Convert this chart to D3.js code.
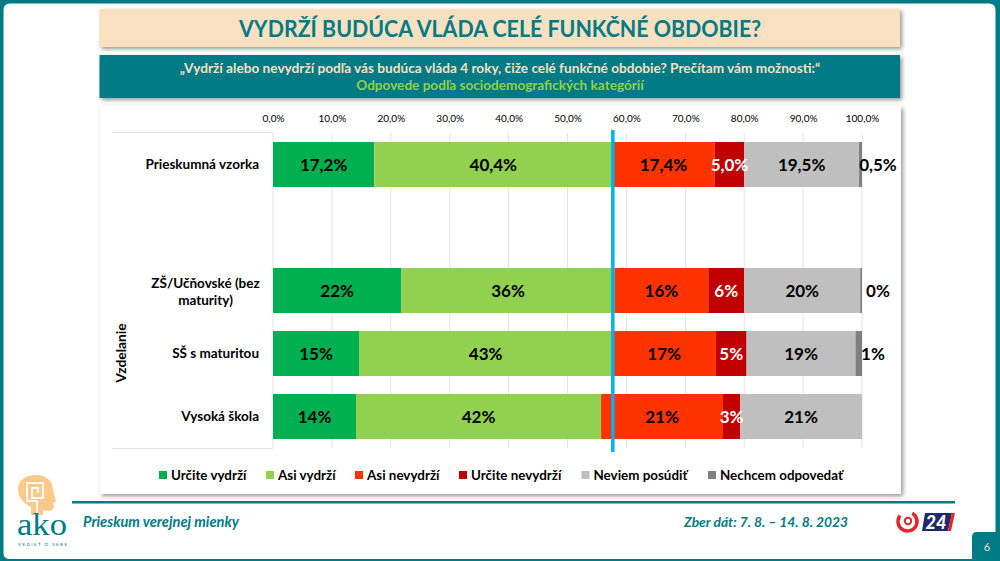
<!DOCTYPE html>
<html>
<head>
<meta charset="utf-8">
<script src="https://cdn.jsdelivr.net/npm/d3@7"></script>
<style>
html, body { margin: 0; padding: 0; background: #fff; }
svg { display: block; font-family: Lato, "Open Sans", sans-serif; font-weight: 700; }
.shadow { filter: drop-shadow(2px 2px 2px rgba(0,0,0,0.42)); }
</style>
</head>
<body>
<div id="graph-area"></div>
<script>
var seriesNames = ["Určite vydrží", "Asi vydrží", "Asi nevydrží", "Určite nevydrží", "Neviem posúdiť", "Nechcem odpovedať"];
var seriesColors = ["#00B050", "#92D050", "#FF3300", "#C00000", "#BFBFBF", "#7F7F7F"];
var labelColors = ["#000", "#000", "#000", "#fff", "#000", "#000"];

var rows = ["Prieskumná vzorka", "", "ZŠ/Učňovské (bez maturity)", "SŠ s maturitou", "Vysoká škola"];
var rowValues = [
    [17.2, 40.4, 17.4, 5.0, 19.5, 0.5],
    null,
    [21.8, 36.2, 15.9, 6.1, 19.7, 0.3],
    [14.6, 43.0, 17.6, 5.2, 18.5, 1.1],
    [14.1, 41.6, 20.7, 2.9, 20.7, 0]
];
var rowLabels = [
    ["17,2%", "40,4%", "17,4%", "5,0%", "19,5%", "0,5%"],
    null,
    ["22%", "36%", "16%", "6%", "20%", "0%"],
    ["15%", "43%", "17%", "5%", "19%", "1%"],
    ["14%", "42%", "21%", "3%", "21%", ""]
];
var xTicks = [0, 10, 20, 30, 40, 50, 60, 70, 80, 90, 100];
var referenceValue = 57.7;

var teal = "#007A84", beige = "#F8E0C0", peach = "#FDC98A";

var svg = d3.select("#graph-area").append("svg")
    .attr("width", 1000)
    .attr("height", 561);

// slide frame
svg.append("path")
    .attr("fill", teal)
    .attr("fill-rule", "evenodd")
    .attr("d", "M0,0H1000V561H0Z M10,3.5H989Q995.5,3.5 995.5,10V559H10Q3.5,559 3.5,553V10Q3.5,3.5 10,3.5Z");

// header boxes
svg.append("rect").attr("class", "shadow").attr("x", 99.5).attr("y", 9).attr("width", 800.5).attr("height", 38).attr("fill", beige);
svg.append("rect").attr("class", "shadow").attr("x", 99.5).attr("y", 55).attr("width", 800.5).attr("height", 43).attr("fill", teal);
svg.append("rect").attr("class", "shadow").attr("x", 100).attr("y", 106).attr("width", 801).attr("height", 388).attr("fill", "#fff");

svg.append("text").attr("x", 500).attr("y", 37).attr("text-anchor", "middle")
    .attr("font-size", 23.5).attr("textLength", 522).attr("lengthAdjust", "spacingAndGlyphs")
    .attr("fill", teal).text("VYDRŽÍ BUDÚCA VLÁDA CELÉ FUNKČNÉ OBDOBIE?");
svg.append("text").attr("x", 500).attr("y", 73).attr("text-anchor", "middle")
    .attr("font-size", 13.65).attr("fill", beige).text("„Vydrží alebo nevydrží podľa vás budúca vláda 4 roky, čiže celé funkčné obdobie? Prečítam vám možnosti:“");
svg.append("text").attr("x", 500).attr("y", 90).attr("text-anchor", "middle")
    .attr("font-size", 13.6).attr("fill", "#92D050").text("Odpovede podľa sociodemografických kategórií");

// chart
var x = d3.scaleLinear().domain([0, 100]).range([273, 862]);
var y = d3.scaleBand().domain(d3.range(rows.length)).range([133, 448])
    .paddingInner(18 / 63).paddingOuter(9 / 63);

var xAxis = d3.axisTop(x).tickValues(xTicks).tickSize(0).tickPadding(0)
    .tickFormat(function(d) { return d.toFixed(1).replace(".", ",") + "%"; });

var axisG = svg.append("g").attr("transform", "translate(0,122)").call(xAxis);
axisG.select(".domain").remove();
axisG.selectAll("text")
    .attr("font-family", "Lato, sans-serif")
    .attr("font-size", 10)
    .attr("font-weight", 400)
    .attr("fill", "#000");

svg.append("g").selectAll("line").data(xTicks).enter().append("line")
    .attr("x1", function(d) { return x(d); })
    .attr("x2", function(d) { return x(d); })
    .attr("y1", 133)
    .attr("y2", 448)
    .attr("stroke", "#e3e3e3")
    .attr("stroke-width", 1);

// row label box
svg.append("path")
    .attr("fill", "none")
    .attr("stroke", "#e3e3e3")
    .attr("d", "M112,132.5H273 M112,448.5H273");

var stack = [];
rowValues.forEach(function(vals, r) {
    if (!vals) { return; }
    var sum = 0;
    vals.forEach(function(v, s) {
        stack.push({row: r, series: s, x0: sum, x1: sum + v, label: rowLabels[r][s]});
        sum += v;
    });
});

svg.append("g").selectAll("rect").data(stack).enter().append("rect")
    .attr("x", function(d) { return x(d.x0); })
    .attr("y", function(d) { return y(d.row); })
    .attr("width", function(d) { return x(d.x1) - x(d.x0); })
    .attr("height", y.bandwidth())
    .attr("fill", function(d) { return seriesColors[d.series]; });

// reference line
svg.append("line")
    .attr("x1", x(referenceValue))
    .attr("x2", x(referenceValue))
    .attr("y1", 130)
    .attr("y2", 452)
    .attr("stroke", "#00B0F0")
    .attr("stroke-width", 3.5);

// data labels, the last series sits outside the bar
svg.append("g").selectAll("text").data(stack).enter().append("text")
    .attr("x", function(d) {
        if (d.series == 5) { return x(100) + (d.row == 3 ? 11 : 16); }
        return x((d.x0 + d.x1) / 2);
    })
    .attr("y", function(d) { return y(d.row) + y.bandwidth() / 2 + 6; })
    .attr("text-anchor", "middle")
    .attr("font-size", 17)
    .attr("fill", function(d) { return labelColors[d.series]; })
    .text(function(d) { return d.label; });

// row labels
rows.forEach(function(name, r) {
    if (!name) { return; }
    var cy = y(r) + y.bandwidth() / 2;
    if (name.length > 20) {
        var t = svg.append("text").attr("text-anchor", "middle").attr("font-size", 13.5);
        t.append("tspan").attr("x", 205.5).attr("y", cy - 3).text("ZŠ/Učňovské (bez");
        t.append("tspan").attr("x", 205.5).attr("y", cy + 14).text("maturity)");
    } else {
        svg.append("text").attr("x", 259).attr("y", cy + 4.5).attr("text-anchor", "end")
            .attr("font-size", 13.5).text(name);
    }
});

svg.append("text")
    .attr("transform", "translate(126,353) rotate(-90)")
    .attr("text-anchor", "middle")
    .attr("font-size", 13.8)
    .text("Vzdelanie");

// legend
var legendX = [159, 266, 355, 459, 581.5, 708];
var legend = svg.append("g").selectAll("g").data(seriesNames).enter().append("g")
    .attr("transform", function(d, i) { return "translate(" + legendX[i] + ",471)"; });
legend.append("rect").attr("width", 8).attr("height", 8)
    .attr("fill", function(d, i) { return seriesColors[i]; });
legend.append("text").attr("x", 12).attr("y", 9).attr("font-size", 13.4).text(function(d) { return d; });

// footer
svg.append("rect").attr("x", 72).attr("y", 501).attr("width", 883).attr("height", 2.5).attr("fill", teal);
svg.append("text").attr("x", 83).attr("y", 527).attr("font-size", 14.6).attr("font-style", "italic")
    .attr("fill", teal).text("Prieskum verejnej mienky");
svg.append("text").attr("x", 848).attr("y", 527).attr("text-anchor", "end").attr("font-size", 13.8)
    .attr("font-style", "italic").attr("fill", teal).text("Zber dát: 7. 8. – 14. 8. 2023");

// page number tab
svg.append("path").attr("fill", teal).attr("d", "M972,559V537Q972,532 977,532H996V559Z");
svg.append("text").attr("x", 987).attr("y", 551).attr("text-anchor", "middle").attr("font-size", 11)
    .attr("font-weight", 400).attr("fill", beige).text("6");

// ako logo
svg.append("path").attr("fill", peach)
    .attr("d", "M31,515V507C23,503 18,497 18,489C18,480 26,475 36,475C47,475 53,482 53,490L56,501L53,503L54,507Q53,511 48,511L43,510L43,515Z");
svg.append("path").attr("fill", "none").attr("stroke", "#fff").attr("stroke-width", 1.8)
    .attr("d", "M37,515V501H27V483H43V498H32V488H38V493");
svg.append("text").attr("x", 17).attr("y", 535).attr("font-family", "Liberation Serif, serif").attr("font-weight", 400)
    .attr("font-size", 31).attr("textLength", 50).attr("lengthAdjust", "spacingAndGlyphs").attr("fill", teal).text("ako");
svg.append("text").attr("x", 18).attr("y", 545.5).attr("font-size", 4.5).attr("font-weight", 400)
    .attr("textLength", 49).attr("fill", teal).text("VEDIEŤ O SEBE");

// JOJ 24 logo
svg.append("circle").attr("cx", 907.5).attr("cy", 521.5).attr("r", 9.5).attr("fill", "none")
    .attr("stroke", "#E2272C").attr("stroke-width", 3.5).attr("stroke-dasharray", "46 14").attr("transform", "rotate(-60 907.5 521.5)");
svg.append("circle").attr("cx", 908).attr("cy", 521).attr("r", 3.2).attr("fill", "none")
    .attr("stroke", "#E2272C").attr("stroke-width", 2);
svg.append("path").attr("fill", "#1F2A6B").attr("d", "M925,513H952L948,531H922Z");
svg.append("path").attr("fill", "#E2272C").attr("d", "M952,513H955L951,531H948Z");
svg.append("text").attr("x", 936).attr("y", 529).attr("text-anchor", "middle").attr("font-size", 18)
    .attr("font-style", "italic").attr("font-weight", 900).attr("fill", "#fff").text("24");
</script>
</body>
</html>
